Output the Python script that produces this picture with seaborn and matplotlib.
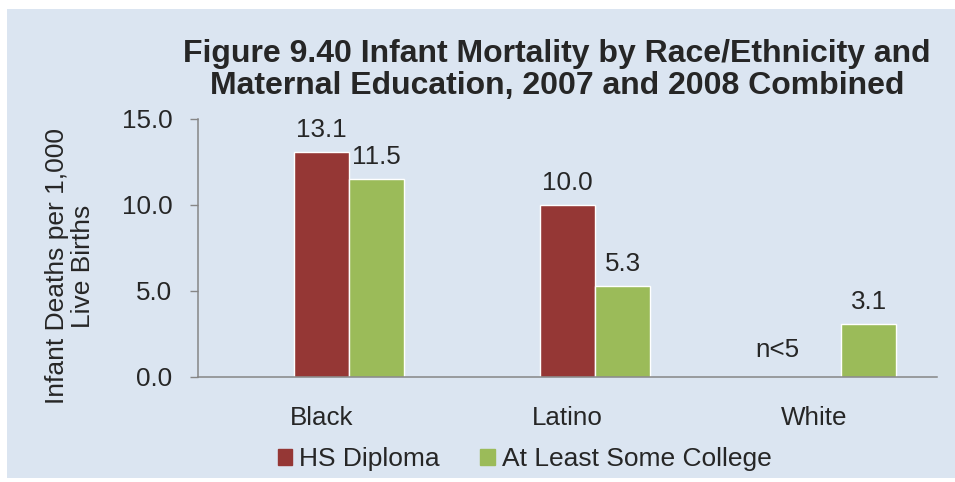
import matplotlib
matplotlib.use("Agg")
import matplotlib.pyplot as plt
import matplotlib.patches as mpatches
import seaborn as sns
import pandas as pd
import numpy as np

# data
groups = ["Black", "Latino", "White"]
hs_diploma = [13.1, 10.0, np.nan]      # White: n<5, no bar
some_college = [11.5, 5.3, 3.1]
series = ["HS Diploma", "At Least Some College"]
yticks = [0.0, 5.0, 10.0, 15.0]

# empty first slot keeps the bars in the same places as the original 3-series chart
slots = ["_blank"] + series
df = pd.DataFrame({
    "group": groups * 2,
    "series": [series[0]] * 3 + [series[1]] * 3,
    "value": hs_diploma + some_college,
}).dropna()

BG = "#DBE5F1"
RED = "#953735"
GREEN = "#9BBB59"
GRAY = "#868686"
FS = 18.7

sns.set_style("white")
plt.rcParams["font.family"] = ["Liberation Sans", "DejaVu Sans"]

fig = plt.figure(figsize=(9.55, 4.82), dpi=100)
fig.patch.set_facecolor("white")
fig.patches.append(mpatches.Rectangle((7 / 955, 4 / 482), 948 / 955, 469 / 482,
                                      transform=fig.transFigure, facecolor=BG,
                                      edgecolor="none", zorder=-10))
ax = fig.add_axes([198 / 955, 1 - 377 / 482, 739 / 955, 258 / 482])
ax.set_facecolor("none")

sns.barplot(data=df, x="group", y="value", hue="series", hue_order=slots, order=groups,
            palette={"_blank": BG, series[0]: RED, series[1]: GREEN},
            width=0.671, gap=0, errorbar=None, legend=False, ax=ax, saturation=1)

for c in ax.containers:
    ax.bar_label(c, fmt="%.1f", padding=7, fontsize=FS)

ax.text(2 - 36 / 246, 1.57, "n<5", ha="center", va="center", fontsize=FS)

ax.set_xlim(-0.5, 2.5)
ax.set_ylim(0, 15)
ax.set_yticks(yticks)
ax.set_yticklabels([f"{v:.1f}" for v in yticks], fontsize=FS)
ax.set_xticks(range(3))
ax.set_xticklabels(groups, fontsize=FS)
ax.set_xticks([-0.5, 0.5, 1.5, 2.5], minor=True)
ax.tick_params(axis="x", which="major", length=0, pad=21)
ax.tick_params(axis="x", which="minor", length=5.5, width=1, color=GRAY, direction="out")
ax.tick_params(axis="y", length=5.5, width=1, color=GRAY, direction="out", pad=13, left=True)
ax.set_xlabel("")
ax.set_ylabel("")
for s in ["top", "right"]:
    ax.spines[s].set_visible(False)
for s in ["left", "bottom"]:
    ax.spines[s].set_color(GRAY)
    ax.spines[s].set_linewidth(1.1)

fig.text(70 / 955, 1 - 266 / 482, "Infant Deaths per 1,000\nLive Births", rotation=90,
         ha="center", va="center", fontsize=19, linespacing=1.08)

fig.text(557 / 955, 1 - 70 / 482,
         "Figure 9.40 Infant Mortality by Race/Ethnicity and\nMaternal Education, 2007 and 2008 Combined",
         ha="center", va="center", fontsize=23, fontweight="bold", linespacing=1.12)

handles = [mpatches.Patch(color=RED, label=series[0]),
           mpatches.Patch(color=GREEN, label=series[1])]
fig.legend(handles=handles, loc="center", bbox_to_anchor=(524.5 / 955, 1 - 459 / 482),
           ncol=2, frameon=False, fontsize=19, handlelength=0.54, handleheight=0.54,
           handletextpad=0.27, columnspacing=1.54, borderaxespad=0, borderpad=0)

fig.savefig("out.png", dpi=100, facecolor=fig.get_facecolor())
